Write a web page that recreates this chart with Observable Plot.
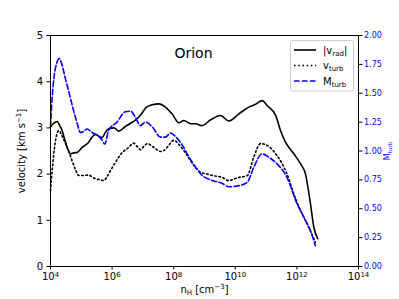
<!DOCTYPE html>
<html><head><meta charset="utf-8">
<script src="https://cdn.jsdelivr.net/npm/d3@7"></script>
<script src="https://cdn.jsdelivr.net/npm/@observablehq/plot@0.6"></script>
<style>body{margin:0;background:#fff;} svg{font-family:"DejaVu Sans",sans-serif;}</style>
</head><body><div id="chart"></div>
<script>
// log10(n_H) and values
const vradLogN = [4.0,4.1,4.22,4.3,4.38,4.46,4.54,4.65,4.76,4.87,4.95,5.03,5.14,5.24,5.35,5.46,5.57,5.68,5.78,5.89,6.06,6.22,6.43,6.6,6.8,6.95,7.1,7.3,7.52,7.73,7.95,8.17,8.33,8.55,8.71,8.92,9.19,9.52,9.79,10.11,10.44,10.66,10.87,11.04,11.31,11.47,11.63,11.9,12.12,12.28,12.44,12.55,12.68];
const vradVal  = [3.02,3.1,3.14,3.05,2.94,2.75,2.58,2.44,2.46,2.47,2.52,2.58,2.63,2.69,2.8,2.86,2.82,2.79,2.9,2.98,3.0,2.93,3.03,3.1,3.19,3.3,3.44,3.5,3.52,3.45,3.3,3.11,3.16,3.09,3.09,3.05,3.17,3.27,3.15,3.3,3.45,3.51,3.59,3.48,3.27,2.94,2.69,2.44,2.22,2.0,1.36,0.85,0.6];

const vturbLogN = [4.0,4.1,4.2,4.27,4.38,4.49,4.6,4.7,4.81,4.92,5.08,5.24,5.35,5.46,5.6,5.73,5.84,5.95,6.08,6.22,6.35,6.49,6.6,6.7,6.81,6.92,7.03,7.14,7.35,7.57,7.68,7.79,8.0,8.22,8.44,8.65,8.87,9.09,9.25,9.57,9.79,10.06,10.39,10.6,10.82,11.04,11.31,11.5,11.68,11.9,12.12,12.33,12.6];
const vturbVal  = [1.64,2.4,2.85,2.94,2.82,2.66,2.48,2.29,2.1,1.97,1.97,1.98,1.94,1.9,1.88,1.86,1.95,2.08,2.22,2.37,2.48,2.55,2.62,2.67,2.6,2.53,2.6,2.66,2.58,2.49,2.51,2.58,2.73,2.6,2.4,2.19,2.04,2.0,1.97,1.93,1.86,1.92,1.97,2.37,2.66,2.62,2.44,2.25,2.0,1.57,1.21,0.92,0.53];

const mturbLogN = [4.0,4.05,4.12,4.2,4.29,4.38,4.48,4.59,4.7,4.8,4.87,4.97,5.08,5.19,5.35,5.57,5.66,5.76,5.89,6.16,6.43,6.6,6.76,6.92,7.08,7.3,7.57,7.73,7.9,8.06,8.28,8.49,8.71,8.92,9.25,9.57,9.79,10.11,10.39,10.6,10.87,11.09,11.31,11.68,12.01,12.22,12.44,12.6];
const mturbVal  = [1.21,1.45,1.65,1.76,1.8,1.74,1.63,1.52,1.4,1.3,1.235,1.16,1.17,1.19,1.16,1.125,1.1,1.06,1.18,1.25,1.34,1.345,1.29,1.22,1.25,1.21,1.12,1.12,1.155,1.125,1.05,0.95,0.86,0.79,0.745,0.72,0.69,0.7,0.73,0.86,0.975,0.946,0.9,0.77,0.54,0.43,0.31,0.18];

const xTickExp = [4,6,8,10,12,14];
const vTicks = [0,1,2,3,4,5];
const mTicks = [0,0.25,0.5,0.75,1.0,1.25,1.5,1.75,2.0];
const vMax = 5, mMax = 2;
const mScale = vMax / mMax;
const title = "Orion";
const legendLabels = [["|v","rad","|"],["v","turb",""],["M","turb",""]];

const rad = vradLogN.map((e,i) => ({n: 10**e, v: vradVal[i]}));
const turb = vturbLogN.map((e,i) => ({n: 10**e, v: vturbVal[i]}));
const mach = mturbLogN.map((e,i) => ({n: 10**e, m: mturbVal[i]}));

const plot = Plot.plot({
  width: 399, height: 299,
  marginLeft: 50, marginRight: 41, marginTop: 35, marginBottom: 33,
  style: {fontFamily: "DejaVu Sans", fontSize: "10px", background: "white", color: "black"},
  x: {type: "log", domain: [1e4, 1e14]},
  y: {domain: [0, vMax]},
  marks: [
    Plot.line(turb, {x: "n", y: "v", stroke: "black", strokeWidth: 1.6, strokeDasharray: "1.6,2.6", curve: "monotone-x"}),
    Plot.line(rad, {x: "n", y: "v", stroke: "black", strokeWidth: 1.6, curve: "monotone-x"}),
    Plot.line(mach, {x: "n", y: d => d.m * mScale, stroke: "blue", strokeWidth: 1.6, strokeDasharray: "5.5,2.5", curve: "monotone-x"}),
    Plot.frame({stroke: "black"}),
    Plot.axisX(xTickExp.map(e => 10**e), {tickFormat: d => String(Math.round(Math.log10(d))), tickSize: 3.5, tickPadding: 3, fontSize: 10, label: "nH", labelAnchor: "center", labelArrow: "none", labelOffset: 26}),
    Plot.axisY(vTicks, {anchor: "left", tickSize: 3.5, tickPadding: 4, fontSize: 10, label: "velocity", labelAnchor: "center", labelArrow: "none", labelOffset: 33}),
    Plot.axisY(mTicks.map(m => m * mScale), {anchor: "right", tickSize: 3.5, tickPadding: 2, fontSize: 8, tickFormat: d => (d / mScale).toFixed(2), fill: "blue", stroke: "black", label: "Mturb", labelAnchor: "center", labelArrow: "none", labelOffset: 31}),
    Plot.text([title], {frameAnchor: "top", dx: -11, dy: 18, fontSize: 14, fontWeight: "normal", lineAnchor: "middle"})
  ]
});
document.getElementById("chart").appendChild(plot);

const svg = d3.select(plot);
// x tick labels as 10 with superscript exponent
svg.selectAll('g[aria-label="x-axis tick label"] text').each(function() {
  const t = d3.select(this);
  const e = t.text();
  t.text(null);
  t.append("tspan").text("10");
  t.append("tspan").attr("font-size", "7px").attr("dy", "-3.5").text(e);
});
// axis labels with sub/superscripts
const xl = svg.select('g[aria-label="x-axis label"] text');
xl.text(null).attr("font-size", "10px");
xl.append("tspan").text("n");
xl.append("tspan").attr("font-size", "7px").attr("dy", "2.5").text("H");
xl.append("tspan").attr("dy", "-2.5").text(" [cm");
xl.append("tspan").attr("font-size", "7px").attr("dy", "-4").text("−3");
xl.append("tspan").attr("dy", "4").text("]");
const yls = svg.selectAll('g[aria-label="y-axis label"] text').nodes();
if (yls.length > 0) {
  const l = d3.select(yls[0]);
  l.text(null).attr("font-size", "10px");
  l.append("tspan").text("velocity [km s");
  l.append("tspan").attr("font-size", "7px").attr("dy", "-4").text("−1");
  l.append("tspan").attr("dy", "4").text("]");
}
if (yls.length > 1) {
  const r = d3.select(yls[1]);
  r.text(null).attr("font-size", "8px");
  r.append("tspan").text("M");
  r.append("tspan").attr("font-size", "5.5px").attr("dy", "2").text("turb");
}

// legend
const lg = svg.append("g").attr("font-family", "DejaVu Sans").attr("font-size", "10px").attr("text-anchor", "start");
lg.append("rect").attr("x", 290.5).attr("y", 40.5).attr("width", 63).attr("height", 50.5).attr("rx", 2)
  .attr("fill", "white").attr("fill-opacity", 0.85).attr("stroke", "#cccccc");
const styles = [{s: "black", d: null}, {s: "black", d: "1.6,2.6"}, {s: "blue", d: "5.5,2.5"}];
legendLabels.forEach((lab, i) => {
  const y = 50 + i * 15.5;
  lg.append("line").attr("x1", 294).attr("x2", 316).attr("y1", y).attr("y2", y)
    .attr("stroke", styles[i].s).attr("stroke-width", 1.6).attr("stroke-dasharray", styles[i].d);
  const t = lg.append("text").attr("x", 323).attr("y", y + 3.5);
  t.append("tspan").text(lab[0]);
  t.append("tspan").attr("font-size", "7px").attr("dy", 2).text(lab[1]);
  if (lab[2]) t.append("tspan").attr("dy", -2).text(lab[2]);
});
</script></body></html>
